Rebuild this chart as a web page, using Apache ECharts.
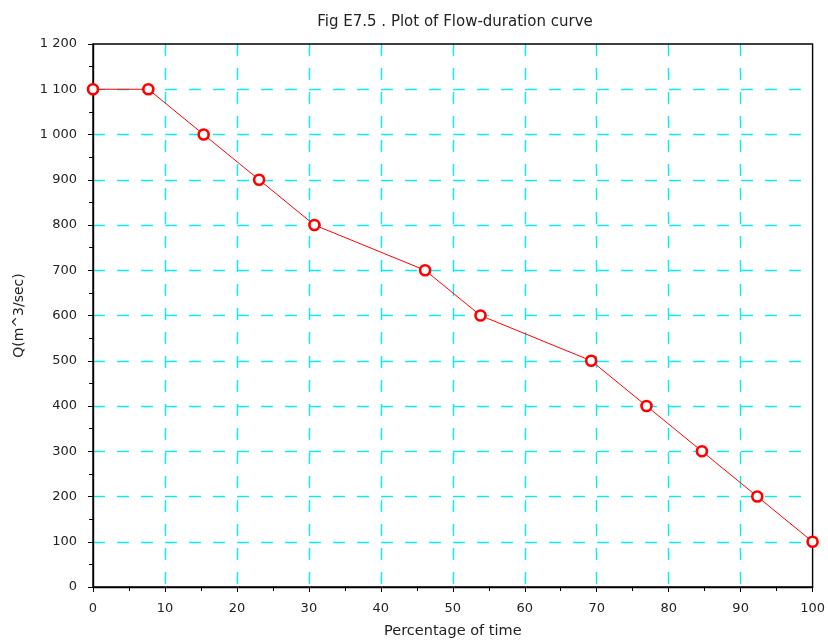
<!DOCTYPE html>
<html><head><meta charset="utf-8">
<script src="https://cdn.jsdelivr.net/npm/echarts@6/dist/echarts.min.js"></script>
<style>html,body{margin:0;padding:0;background:#fff}#c{width:828px;height:644px}</style>
</head><body><div id="c"></div>
<script>
const percentTime = [0, 7.69, 15.38, 23.08, 30.77, 46.15, 53.85, 69.23, 76.92, 84.62, 92.31, 100];
const flowQ = [1100, 1100, 1000, 900, 800, 700, 600, 500, 400, 300, 200, 100];
const titleText = 'Fig E7.5 . Plot of Flow-duration curve';
const xName = 'Percentage of time';
const yName = 'Q(m^3/sec)';

const chart = echarts.init(document.getElementById('c'), null, {renderer: 'canvas'});
const font = 'DejaVu Sans, sans-serif';
const fmt = v => String(v).replace(/\B(?=(\d{3})+(?!\d))/g, ' ');
const split = {show: true, showMinLine: false, showMaxLine: false,
  lineStyle: {color: '#00f0f0', width: 1.4, type: [12, 12]}};
chart.setOption({
  animation: false,
  title: {text: titleText, left: 450, textAlign: 'center', top: 10,
    textStyle: {fontFamily: font, fontSize: 15, fontWeight: 'normal', color: '#222'}},
  grid: {left: 93, top: 44, width: 720, height: 544, show: true, borderColor: '#000', borderWidth: 1.4, backgroundColor: 'transparent', z: 3},
  xAxis: {type: 'value', min: 0, max: 100, interval: 10,
    name: xName, nameLocation: 'middle', nameGap: 37,
    nameTextStyle: {fontFamily: font, fontSize: 14.5, color: '#222'},
    axisLine: {show: true, onZero: false, lineStyle: {color: '#000', width: 1.4}},
    axisTick: {show: true, inside: false, length: 5, lineStyle: {color: '#000'}},
    minorTick: {show: true, splitNumber: 2, length: 4, lineStyle: {color: '#000'}},
    axisLabel: {fontFamily: font, fontSize: 13, color: '#222', margin: 15},
    splitLine: split},
  yAxis: {type: 'value', min: 0, max: 1200, interval: 100,
    name: yName, nameLocation: 'middle', nameGap: 67, nameRotate: 90,
    nameTextStyle: {fontFamily: font, fontSize: 14, color: '#222'},
    axisLine: {show: true, onZero: false, lineStyle: {color: '#000', width: 1.4}},
    axisTick: {show: true, inside: false, length: 5, lineStyle: {color: '#000'}},
    minorTick: {show: true, splitNumber: 2, length: 4, lineStyle: {color: '#000'}},
    axisLabel: {fontFamily: font, fontSize: 13, color: '#222', margin: 16, formatter: fmt},
    splitLine: split},
  series: [{
    type: 'line', data: percentTime.map((x, i) => [x, flowQ[i]]),
    symbol: 'circle', symbolSize: 10, clip: false, z: 5,
    lineStyle: {color: '#ff0000', width: 1},
    itemStyle: {color: '#fff', borderColor: '#ff0000', borderWidth: 2.6}
  }]
});
</script></body></html>
